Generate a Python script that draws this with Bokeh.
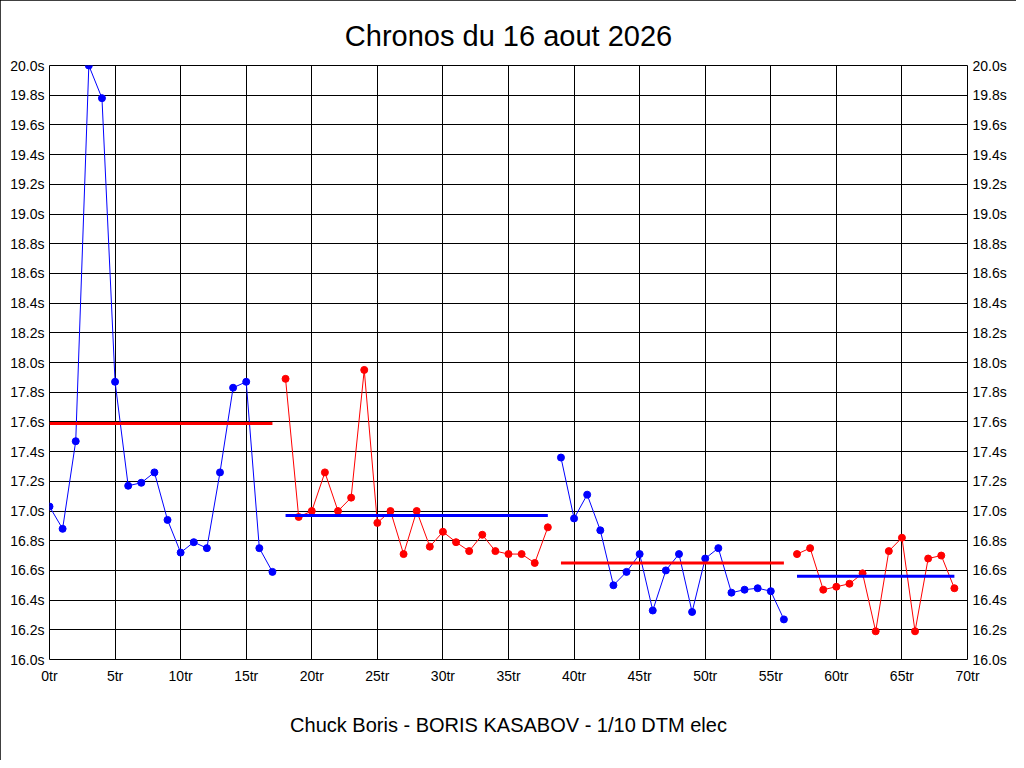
from bokeh.plotting import figure
from bokeh.models import (Range1d, FixedTicker, PrintfTickFormatter, LinearAxis, Title)
from bokeh.embed import file_html
from bokeh.resources import INLINE

# ---- data ----
laps_1 = list(range(0, 18))
times_1 = [17.03, 16.88, 17.47, 20.00, 19.78, 17.87, 17.17, 17.19, 17.26, 16.94,
           16.72, 16.79, 16.75, 17.26, 17.83, 17.87, 16.75, 16.59]
laps_2 = list(range(18, 39))
times_2 = [17.89, 16.96, 17.00, 17.26, 17.00, 17.09, 17.95, 16.92, 17.00, 16.71,
           17.00, 16.76, 16.86, 16.79, 16.73, 16.84, 16.73, 16.71, 16.71, 16.65, 16.89]
laps_3 = list(range(39, 57))
times_3 = [17.36, 16.95, 17.11, 16.87, 16.50, 16.59, 16.71, 16.33, 16.60, 16.71,
           16.32, 16.68, 16.75, 16.45, 16.47, 16.48, 16.46, 16.27]
laps_4 = list(range(57, 70))
times_4 = [16.71, 16.75, 16.47, 16.49, 16.51, 16.58, 16.19, 16.73, 16.82, 16.19,
           16.68, 16.70, 16.48]

mean_values = [17.59, 16.97, 16.65, 16.56]
mean_starts = [0, 18, 39, 57]
mean_ends = [17, 38, 56, 69]

x_ticks = list(range(0, 71, 5))
y_ticks = [round(16.0 + 0.2 * i, 1) for i in range(21)]

title_text = "Chronos du 16 aout 2026"
caption_text = "Chuck Boris - BORIS KASABOV - 1/10 DTM elec"

series_colors = ["#0000FF", "#FF0000", "#0000FF", "#FF0000"]
mean_colors = ["#FF0000", "#0000FF", "#FF0000", "#0000FF"]

FONT = "Liberation Sans"

p = figure(width=1016, height=760, output_backend="svg", toolbar_location=None,
           x_range=Range1d(0, 70), y_range=Range1d(16, 20),
           min_border_left=49, min_border_right=49, min_border_top=65,
           min_border_bottom=101,
           background_fill_color="white", border_fill_color="white")
p.styles = {"outline": "1px solid black", "outline-offset": "-1px"}

p.title = Title(text=title_text, align="center", text_font=FONT,
                text_font_size="29px", text_font_style="normal",
                text_color="black", standoff=28)

p.outline_line_color = "black"
p.outline_line_width = 1
p.outline_line_alpha = 1

for g in (p.xgrid, p.ygrid):
    g.grid_line_color = "black"
    g.grid_line_alpha = 1
    g.grid_line_width = 1
p.xgrid.ticker = FixedTicker(ticks=x_ticks)
p.ygrid.ticker = FixedTicker(ticks=y_ticks)


def style_axis(ax, ticks, fmt):
    ax.ticker = FixedTicker(ticks=ticks)
    ax.formatter = PrintfTickFormatter(format=fmt)
    ax.major_tick_in = 0
    ax.major_tick_out = 0
    ax.minor_tick_in = 0
    ax.minor_tick_out = 0
    ax.axis_line_color = None
    ax.major_label_text_font = FONT
    ax.major_label_text_font_size = "14px"
    ax.major_label_text_color = "black"


style_axis(p.xaxis[0], x_ticks, "%dtr")
p.xaxis[0].major_label_standoff = 8
p.xaxis[0].axis_label = caption_text
p.xaxis[0].axis_label_text_font = FONT
p.xaxis[0].axis_label_text_font_size = "20px"
p.xaxis[0].axis_label_text_font_style = "normal"
p.xaxis[0].axis_label_text_color = "black"
p.xaxis[0].axis_label_standoff = 27

style_axis(p.yaxis[0], y_ticks, "%.1fs")
p.yaxis[0].major_label_standoff = 5

right_axis = LinearAxis()
style_axis(right_axis, y_ticks, "%.1fs")
right_axis.major_label_standoff = 5
p.add_layout(right_axis, "right")

all_laps = [laps_1, laps_2, laps_3, laps_4]
all_times = [times_1, times_2, times_3, times_4]
for laps, times, col in zip(all_laps, all_times, series_colors):
    p.line(laps, times, line_color=col, line_width=1)
    p.scatter(laps, times, size=7, fill_color=col, line_color=col)

for m, s, e, col in zip(mean_values, mean_starts, mean_ends, mean_colors):
    p.line([s, e], [m, m], line_color=col, line_width=3)

open("out.html", "w").write(file_html(p, INLINE))
